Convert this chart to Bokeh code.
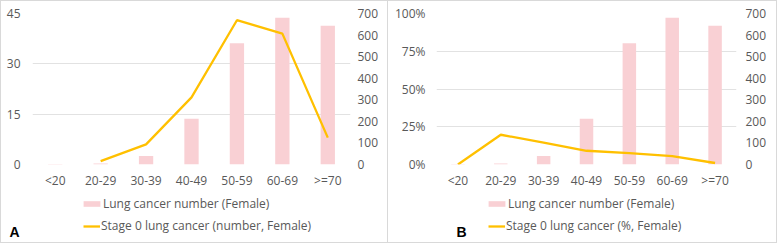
from bokeh.plotting import figure
from bokeh.models import Range1d, LinearAxis, FixedTicker, Legend, LegendItem, Label, PrintfTickFormatter
from bokeh.layouts import row, column
from bokeh.embed import file_html
from bokeh.resources import INLINE

age_groups = ["<20", "20-29", "30-39", "40-49", "50-59", "60-69", ">=70"]
lung_cancer_female = [2, 5, 39, 212, 562, 680, 643]
stage0_number_female = [float("nan"), 1, 6, 20, 43, 39, 8]
stage0_percent_female = [0, 19.7, 14.5, 9.1, 7.5, 5.5, 1.0]
left_ticks_a = [0, 15, 30, 45]
left_ticks_b = [0, 25, 50, 75, 100]
right_ticks = [0, 100, 200, 300, 400, 500, 600, 700]
bar_label = "Lung cancer number (Female)"
line_label_a = "Stage 0 lung cancer (number, Female)"
line_label_b = "Stage 0 lung cancer (%, Female)"

FONT = "Open Sans"
TXT = "#595959"
BAR = "#F9D0D4"
LINE = "#FFC000"
GRID = "#e2e2e2"
BORDER = "#d9d9d9"


def style_axis(ax, standoff):
    ax.axis_line_color = None
    ax.major_tick_line_color = None
    ax.minor_tick_line_color = None
    ax.major_tick_out = 0
    ax.major_tick_in = 0
    ax.major_label_text_color = TXT
    ax.major_label_text_font = FONT
    ax.major_label_text_font_size = "12px"
    ax.major_label_standoff = standoff


def make_chart(width, bl, br, left_max, left_ticks, line_vals, left_standoff, right_standoff, pct):
    p = figure(x_range=age_groups, y_range=Range1d(0, left_max), width=width, height=192,
               output_backend="svg", toolbar_location=None,
               min_border_left=bl, min_border_right=br, min_border_top=13, min_border_bottom=28)
    p.frame_align = False
    p.border_fill_color = None
    p.background_fill_color = None
    p.outline_line_color = None
    p.extra_y_ranges = {"right": Range1d(0, 700)}

    p.yaxis.ticker = FixedTicker(ticks=left_ticks)
    if pct:
        p.yaxis.formatter = PrintfTickFormatter(format="%d%%")
    style_axis(p.yaxis[0], left_standoff)
    style_axis(p.xaxis[0], 7)

    rax = LinearAxis(y_range_name="right", ticker=FixedTicker(ticks=right_ticks))
    style_axis(rax, right_standoff)
    p.add_layout(rax, "right")

    p.xgrid.grid_line_color = None
    p.ygrid.grid_line_color = GRID
    p.ygrid.ticker = FixedTicker(ticks=left_ticks)

    p.vbar(x=age_groups, top=lung_cancer_female, width=0.315, y_range_name="right",
           fill_color=BAR, line_color=None)
    p.line(x=age_groups, y=line_vals, line_color=LINE, line_width=2.3)
    return p


def make_legend(width, x0, line_vals, line_label, letter, letter_x):
    q = figure(x_range=age_groups, y_range=Range1d(0, 1), width=width, height=51,
               output_backend="svg", toolbar_location=None,
               min_border=0, min_border_left=0, min_border_right=0, min_border_top=0,
               min_border_bottom=0, x_axis_location=None, y_axis_location=None)
    q.frame_align = False
    q.border_fill_color = None
    q.background_fill_color = None
    q.outline_line_color = None
    q.grid.visible = False
    bars = q.vbar(x=age_groups, top=lung_cancer_female, width=0.315,
                  fill_color=BAR, line_color=None, visible=False)
    ln = q.line(x=age_groups, y=line_vals, line_color=LINE, line_width=2.3, visible=False)
    common = dict(padding=0, margin=0, border_line_color=None, background_fill_alpha=0,
                  label_text_font=FONT, label_text_font_size="12px", label_text_color=TXT,
                  label_standoff=1, inactive_fill_alpha=0)
    leg1 = Legend(items=[LegendItem(label=bar_label, renderers=[bars])],
                  location=(x0 - 2, 31), glyph_width=21, glyph_height=7, label_height=7, **common)
    leg2 = Legend(items=[LegendItem(label=line_label, renderers=[ln])],
                  location=(x0, 9), glyph_width=17, glyph_height=16, label_height=16, **common)
    q.add_layout(leg1, "center")
    q.add_layout(leg2, "center")
    q.add_layout(Label(x=letter_x, y=12, x_units="screen", y_units="screen", text=letter,
                       text_font="Liberation Sans", text_font_style="bold", text_font_size="14px",
                       text_color="black", text_baseline="alphabetic"))
    return q


pA = make_chart(388, 32, 38, 45, left_ticks_a, stage0_number_female, 12, 7, False)
lA = make_legend(388, 83, stage0_number_female, line_label_a, "A", 9)
colA = column(pA, lA, spacing=0, styles={"box-shadow": "inset 0 0 0 1px " + BORDER})

pB = make_chart(389, 48, 41, 100, left_ticks_b, stage0_percent_female, 11, 9, True)
lB = make_legend(389, 100, stage0_percent_female, line_label_b, "B", 68)
colB = column(pB, lB, spacing=0,
              styles={"box-shadow": "inset -1px 0 0 %s, inset 0 1px 0 %s, inset 0 -1px 0 %s" % (BORDER, BORDER, BORDER)})

layout = row(colA, colB, spacing=0)
open("out.html", "w").write(file_html(layout, INLINE))
